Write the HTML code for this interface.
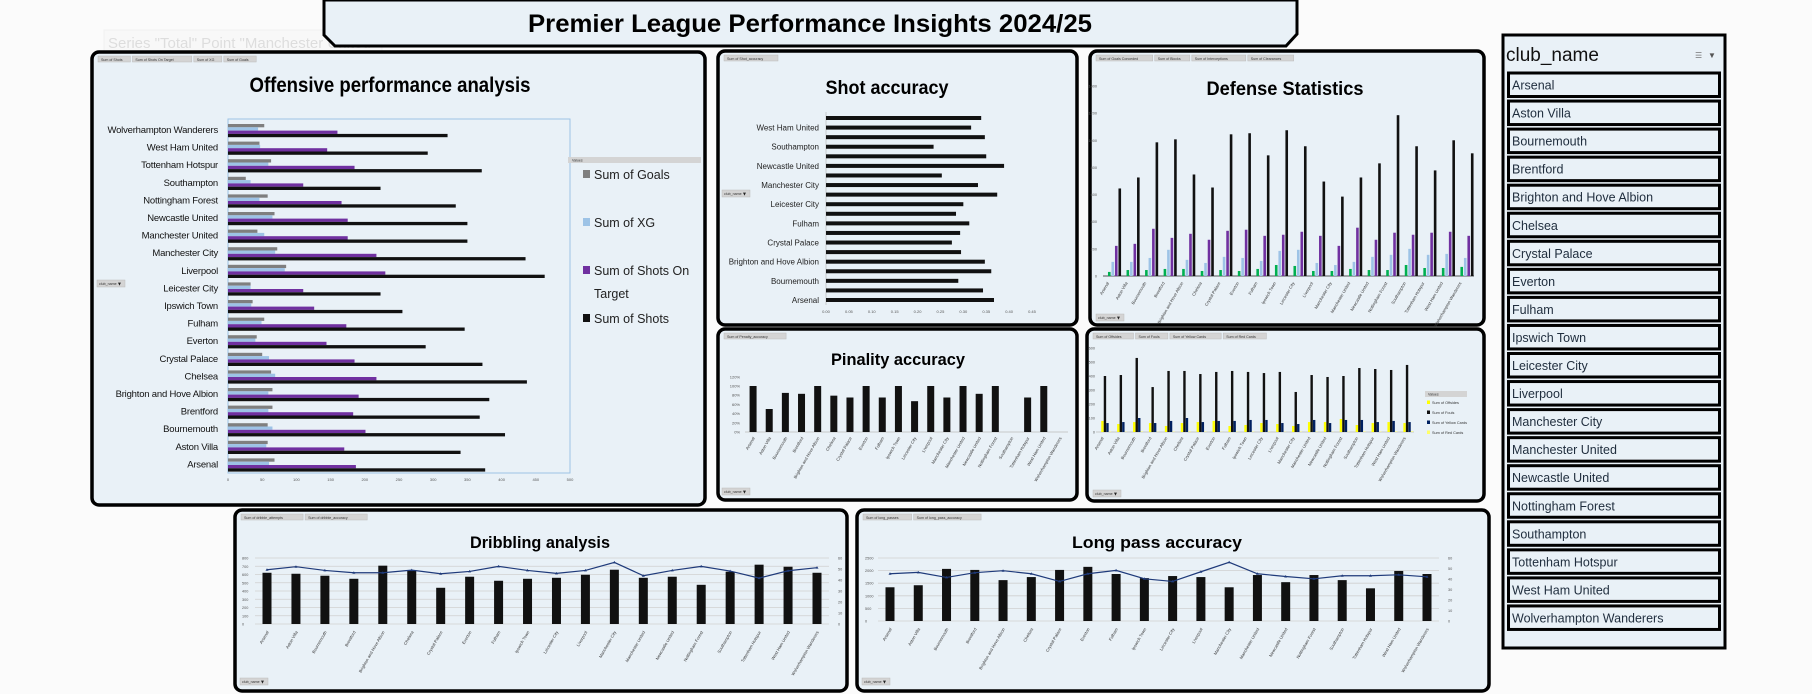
<!DOCTYPE html>
<html><head><meta charset="utf-8">
<style>
html,body{margin:0;padding:0;background:#fbfbfb;width:1812px;height:694px;overflow:hidden}
svg{display:block;font-family:"Liberation Sans",sans-serif}
</style></head>
<body>
<svg id="dash" xmlns="http://www.w3.org/2000/svg" width="1812" height="694" viewBox="0 0 1812 694">
  <g opacity="0.3">
    <rect x="104" y="30" width="278" height="44" fill="#f4f4f4" stroke="#ddd"/>
    <text x="108" y="48" font-size="15" fill="#999">Series "Total" Point "Manchester United"</text>
    <text x="108" y="68" font-size="15" fill="#999">Value: 100%</text>
  </g>
  <g>
    <polygon points="324,0 1297,0 1297,34 1286,46 335,46 324,35" fill="#e9f1f7" stroke="#000" stroke-width="3"/>
    <text x="810" y="32" text-anchor="middle" font-size="25" font-weight="bold" textLength="564" lengthAdjust="spacingAndGlyphs">Premier League Performance Insights 2024/25</text>
  </g>
  <g id="charts"></g>
  <g id="slicer"></g>
</svg>
<script>
const clubs = ["Arsenal","Aston Villa","Bournemouth","Brentford","Brighton and Hove Albion","Chelsea","Crystal Palace","Everton","Fulham","Ipswich Town","Leicester City","Liverpool","Manchester City","Manchester United","Newcastle United","Nottingham Forest","Southampton","Tottenham Hotspur","West Ham United","Wolverhampton Wanderers"];
// Offensive (Arsenal..Wolves)
const offGoals = [68,58,58,65,65,63,50,42,53,36,33,85,72,43,68,58,26,63,46,53];
const offXG = [60,56,65,59,59,69,60,40,49,34,33,83,69,53,65,46,33,59,47,44];
const offSoT = [187,170,201,183,191,217,185,144,173,126,110,230,217,175,175,166,110,185,145,160];
const offShots = [376,340,405,368,382,437,372,289,346,255,223,463,435,350,350,333,223,371,292,321];
const offTicks = [0,50,100,150,200,250,300,350,400,450,500];
// Shot accuracy
const shotAcc = [0.367,0.343,0.289,0.361,0.347,0.295,0.275,0.293,0.313,0.284,0.300,0.374,0.332,0.253,0.389,0.350,0.235,0.347,0.317,0.339];
const accTicks = [0,0.05,0.10,0.15,0.20,0.25,0.30,0.35,0.40,0.45];
// Defense
const defConceded = [30,44,44,52,52,37,44,37,52,81,74,37,37,52,44,44,81,59,59,67];
const defBlocks = [104,104,133,193,119,96,141,133,111,185,193,96,81,104,141,156,200,156,163,133];
const defInterceptions = [222,237,348,281,311,267,333,341,296,304,326,296,222,356,267,319,304,319,326,296];
const defClearances = [645,726,985,1007,748,652,1044,1052,889,1074,956,696,585,726,830,1185,956,778,1000,904];
const defTicks = [0,200,400,600,800,1000,1200,1400];
// Penalty accuracy (null = no value)
const penAcc = [100,50,85,83,100,79,75,100,75,100,67,100,75,100,83,100,null,75,100,null];
const penTicks = [0,20,40,60,80,100,120];
// Discipline
const offsides = [79,57,71,64,43,64,71,79,43,50,64,57,43,71,71,93,50,64,71,64];
const fouls = [400,407,529,321,436,436,414,429,436,429,421,429,286,407,393,400,457,450,443,479];
const yellowCards = [64,71,100,64,79,100,71,79,79,86,86,64,57,86,64,86,86,71,79,71];
const redCards = [3,2,4,2,3,5,3,2,3,3,4,2,3,3,2,3,4,3,4,5];
const discTicks = [0,100,200,300,400,500,600];
// Dribbling
const dribAttempts = [621,609,585,548,707,646,439,573,524,548,560,597,658,560,573,475,634,719,694,621];
const dribAccuracy = [49.3,52.1,48.7,46.6,46.6,49.0,45.7,47.8,52.4,48.7,46.0,48.7,56.0,43.9,48.7,52.4,48.1,41.7,48.4,51.2];
const dribTicksL = [0,100,200,300,400,500,600,700,800];
const dribTicksR = [0,10,20,30,40,50,60];
// Long passes
const longPasses = [1338,1419,2068,2027,1622,1743,2027,2149,1865,1703,1784,1743,1338,1824,1541,1824,1622,1297,1986,1865];
const longAcc = [45.0,46.3,41.5,46.0,47.9,45.0,37.7,45.0,48.2,40.2,37.7,46.9,55.9,45.0,42.4,40.2,43.1,43.1,44.0,42.1];
const longTicksL = [0,500,1000,1500,2000,2500];
const longTicksR = [0,10,20,30,40,50,60];

const NS="http://www.w3.org/2000/svg";
const root=document.getElementById('charts');
function mk(tag,attrs,parent){const e=document.createElementNS(NS,tag);for(const k in attrs)e.setAttribute(k,attrs[k]);(parent||root).appendChild(e);return e;}
function txt(s,attrs,parent){const e=mk('text',attrs,parent);e.textContent=s;return e;}
const PANEL="#e9f1f7";

function panel(name,x,y,w,h,title,tx,ty,tfs,tlen,tabs){
  const g=mk('g',{});
  
  
  const r=mk('rect',{x:x,y:y,width:w,height:h,rx:7,fill:PANEL,stroke:'#000','stroke-width':3.5},g);
  
  
  if(title){
    const t=txt(title,{x:tx,y:ty,'text-anchor':'middle','font-size':tfs,'font-weight':'bold',textLength:tlen,lengthAdjust:'spacingAndGlyphs'},g);
    
    
  }
  let cx=x+6;
  tabs.forEach(s=>{
    const tw=Math.max(28,s.length*2.7);
    const b=mk('rect',{x:cx,y:y+4,width:tw,height:6,fill:'#d4d4d4',stroke:'#bbb','stroke-width':0.5},g);
    
    
    txt(s,{x:cx+3,y:y+8.8,'font-size':3.6,fill:'#333'},g);
    cx+=tw+2;
  });
  return g;
}
function filterBtn(g,x,y){
  const b=mk('rect',{x:x,y:y,width:28,height:7,fill:'#d4d4d4',stroke:'#bbb','stroke-width':0.5},g);
  
  
  txt('club_name',{x:x+2,y:y+5,'font-size':3.6,fill:'#333'},g);
  txt('▼',{x:x+20,y:y+5.5,'font-size':5,fill:'#222'},g);
}
function xCatLabels(g,xs,y,fs){
  clubs.forEach((c,i)=>{
    const t=txt(c,{x:xs(i),y:y,'font-size':fs,fill:'#333','text-anchor':'end',transform:`rotate(-60 ${xs(i)} ${y})`},g);
    
    
  });
}

/* ---------- Offensive ---------- */
(function(){
  const g=panel('offensive-panel',92,52,613,453,'Offensive performance analysis',390,92,21,281,['Sum of Shots','Sum of Shots On Target','Sum of XG','Sum of Goals']);
  const x0=228,x1=570,yT=120,yB=472,n=clubs.length,rh=(yB-yT)/n;
  const X=v=>x0+(v/500)*(x1-x0);
  const pa=mk('rect',{x:x0,y:yT-1,width:x1-x0,height:yB-yT+2,fill:'none',stroke:'#9dc3e6','stroke-width':1},g);
  
  
  const series=[[offGoals,'#7f7f7f','bar-goals'],[offXG,'#9dc3e6','bar-xg'],[offSoT,'#7030a0','bar-shots-on-target'],[offShots,'#111','bar-shots']];
  for(let i=0;i<n;i++){
    const row=n-1-i; const top=yT+row*rh;
    series.forEach((s,k)=>{
      const b=mk('rect',{x:x0,y:top+4+k*3.3,width:X(s[0][i])-x0,height:3.3,fill:s[1]},g);
      
      
    });
    const l=txt(clubs[i],{x:218,y:top+13,'font-size':9.5,'letter-spacing':-0.2,'text-anchor':'end',fill:'#111'},g);
    
    
  }
  offTicks.forEach(v=>{txt(String(v),{x:X(v),y:481,'font-size':4,'text-anchor':'middle',fill:'#555'},g);});
  const vb=mk('rect',{x:568,y:157,width:133,height:6,fill:'#d4d4d4'},g);
  
  
  txt('Values',{x:572,y:161.5,'font-size':3.6,fill:'#333'},g);
  const leg=[['Sum of Goals','#7f7f7f',179],['Sum of XG','#9dc3e6',227],['Sum of Shots On','#7030a0',275],['Sum of Shots','#111',323]];
  leg.forEach(l=>{
    const sw=mk('rect',{x:583,y:l[2]-9,width:7,height:8,fill:l[1]},g);
    
    
    const t=txt(l[0],{x:594,y:l[2],'font-size':12.5,fill:'#222'},g);
    
    
  });
  txt('Target',{x:594,y:298,'font-size':12.5,fill:'#222'},g);
  filterBtn(g,97,280);
})();

/* ---------- Shot accuracy ---------- */
(function(){
  const g=panel('shot-accuracy-panel',718,51,359,274,'Shot accuracy',887,94,19,123,['Sum of Shot_accuracy']);
  const x0=826,x1=1032; const X=v=>x0+(v/0.45)*(x1-x0);
  const yT=118,yB=300,n=clubs.length,st=(yB-yT)/(n-1);
  mk('line',{x1:x0,y1:112,x2:x0,y2:305,stroke:'#bbb','stroke-width':0.7},g);
  for(let i=0;i<n;i++){
    const row=n-1-i; const cy=yT+row*st;
    const b=mk('rect',{x:x0,y:cy-2,width:X(shotAcc[i])-x0,height:4,fill:'#111'},g);
    
    
    if(row%2===1){
      const l=txt(clubs[i],{x:819,y:cy+3,'font-size':8,'text-anchor':'end',fill:'#222'},g);
      
      
    }
  }
  accTicks.forEach(v=>{txt(v.toFixed(2),{x:X(v),y:313,'font-size':4,'text-anchor':'middle',fill:'#555'},g);});
  filterBtn(g,722,190);
})();

/* ---------- Defense ---------- */
(function(){
  const g=panel('defense-panel',1090,51,394,274,'Defense Statistics',1285,95,19,157,['Sum of Goals Conceded','Sum of Blocks','Sum of Interceptions','Sum of Clearances']);
  const x0=1103,x1=1474,yB=276,yT=86; const Y=v=>yB-(v/1400)*(yB-yT);
  const sw=(x1-x0)/clubs.length; const cx=i=>x0+sw*i+sw/2+3;
  mk('line',{x1:x0,y1:yB,x2:x1,y2:yB,stroke:'#222','stroke-width':0.8},g);
  defTicks.forEach(v=>{txt(String(v),{x:1097,y:Y(v)+1.5,'font-size':3.8,'text-anchor':'end',fill:'#555'},g);});
  const ser=[[defConceded,'#00b050','bar-goals-conceded',-6],[defBlocks,'#9dc3e6','bar-blocks',-2.5],[defInterceptions,'#7030a0','bar-interceptions',1],[defClearances,'#111','bar-clearances',4.5]];
  clubs.forEach((c,i)=>{
    ser.forEach(s=>{
      const b=mk('rect',{x:cx(i)+s[3]-1.3,y:Y(s[0][i]),width:2.6,height:yB-Y(s[0][i]),fill:s[1]},g);
      
      
    });
  });
  xCatLabels(g,i=>cx(i)-6,283,4.2);
  filterBtn(g,1096,314);
})();

/* ---------- Penalty accuracy ---------- */
(function(){
  const g=panel('penalty-accuracy-panel',718,329,359,171,'Pinality accuracy',898,365,17,134,['Sum of Penalty_accuracy']);
  const x0=745,x1=1068,yB=432; const Y=v=>yB-v*0.46;
  const sw=(x1-x0)/clubs.length; const cx=i=>x0+sw*i+sw/2;
  mk('line',{x1:x0,y1:yB,x2:x1,y2:yB,stroke:'#bbb','stroke-width':0.7},g);
  penTicks.forEach(v=>{txt(v+'%',{x:740,y:Y(v)+1.5,'font-size':4,'text-anchor':'end',fill:'#555'},g);});
  penAcc.forEach((v,i)=>{
    if(v===null)return;
    const b=mk('rect',{x:cx(i)-3.5,y:Y(v),width:7,height:yB-Y(v),fill:'#111'},g);
    
    
  });
  xCatLabels(g,i=>cx(i)+2,438,4.2);
  filterBtn(g,722,488);
})();

/* ---------- Discipline ---------- */
(function(){
  const g=panel('discipline-panel',1087,329,397,172,'',0,0,1,1,['Sum of Offsides','Sum of Fouls','Sum of Yellow Cards','Sum of Red Cards']);
  const x0=1096,x1=1414,yB=432; const Y=v=>yB-v*0.14;
  const sw=(x1-x0)/clubs.length; const cx=i=>x0+sw*i+sw/2;
  mk('line',{x1:x0,y1:yB,x2:x1,y2:yB,stroke:'#bbb','stroke-width':0.7},g);
  discTicks.forEach(v=>{txt(String(v),{x:1095,y:Y(v)+1.5,'font-size':3.8,'text-anchor':'end',fill:'#555'},g);});
  const ser=[[offsides,'#ffff00','bar-offsides',-1.5],[fouls,'#111','bar-fouls',1],[yellowCards,'#002060','bar-yellow-cards',3.5],[redCards,'#ffff66','bar-red-cards',6]];
  clubs.forEach((c,i)=>{
    ser.forEach(s=>{
      const b=mk('rect',{x:cx(i)+s[3]-1.2,y:Y(s[0][i]),width:2.4,height:yB-Y(s[0][i]),fill:s[1]},g);
      
      
    });
  });
  xCatLabels(g,i=>cx(i),438,4.2);
  const vb=mk('rect',{x:1425,y:391,width:42,height:6,fill:'#d4d4d4'},g);
  
  
  txt('Values',{x:1428,y:395.5,'font-size':3.6,fill:'#333'},g);
  [['Sum of Offsides','#ffff00',404],['Sum of Fouls','#111',414],['Sum of Yellow Cards','#002060',424],['Sum of Red Cards','#ffff66',434]].forEach(l=>{
    mk('rect',{x:1427,y:l[2]-3.5,width:3,height:3.5,fill:l[1]},g);
    const t=txt(l[0],{x:1432,y:l[2],'font-size':3.8,fill:'#333'},g);
    
    
  });
  filterBtn(g,1093,490);
})();

/* ---------- Combo charts ---------- */
function combo(name,px,pw,title,tx,tlen,tabs,x0,x1,yB,yT,bars,maxL,ticksL,line,ticksR,barName,lineName,lx,rx){
  const g=panel(name,px,510,pw,181,title,tx,548,17,tlen,tabs);
  const YL=v=>yB-(v/maxL)*(yB-yT); const YR=v=>yB-(v/60)*(yB-yT);
  const st=(x1-x0)/(clubs.length-1); const cx=i=>x0+st*i;
  ticksL.forEach(v=>{
    mk('line',{x1:x0-12,y1:YL(v),x2:x1+12,y2:YL(v),stroke:'#d0d0d0','stroke-width':0.8},g);
    txt(String(v),{x:lx,y:YL(v)+1.5,'font-size':3.8,fill:'#555'},g);
  });
  ticksR.forEach(v=>{txt(String(v),{x:rx,y:YR(v)+1.5,'font-size':3.8,fill:'#555'},g);});
  bars.forEach((v,i)=>{
    const b=mk('rect',{x:cx(i)-4.5,y:YL(v),width:9,height:yB-YL(v),fill:'#111'},g);
    
    
  });
  const pts=line.map((v,i)=>cx(i)+','+YR(v)).join(' ');
  const pl=mk('polyline',{points:pts,fill:'none',stroke:'#1f3a7a','stroke-width':1.2},g);
  
  
  line.forEach((v,i)=>{
    const m=mk('path',{d:`M${cx(i)-1.5},${YR(v)+1} L${cx(i)},${YR(v)-1.5} L${cx(i)+1.5},${YR(v)+1} Z`,fill:'#1f3a7a'},g);
    
    
  });
  xCatLabels(g,i=>cx(i)+2,yB+8,4.2);
  filterBtn(g,px+5,678);
}
combo('dribbling-panel',235,612,'Dribbling analysis',540,140,['Sum of dribble_attempts','Sum of dribble_accuracy'],267,817,624,558,dribAttempts,800,dribTicksL,dribAccuracy,dribTicksR,'bar-dribble-attempts','line-dribble-accuracy',242,838);
combo('long-pass-panel',857,632,'Long pass accuracy',1157,170,['Sum of long_passes','Sum of long_pass_accuracy'],890,1427,621,558,longPasses,2500,longTicksL,longAcc,longTicksR,'bar-long-passes','line-long-pass-accuracy',865,1448);

/* ---------- Slicer ---------- */
(function(){
  const s=document.getElementById('slicer');
  
  
  mk('rect',{x:1503,y:35,width:222,height:613,fill:PANEL,stroke:'#000','stroke-width':3},s);
  const h=txt('club_name',{x:1506,y:61,'font-size':19,fill:'#111'},s);
  
  
  txt('☰',{x:1695,y:58,'font-size':8,fill:'#777'},s);
  txt('▼',{x:1708,y:58,'font-size':8,fill:'#555'},s);
  clubs.forEach((c,i)=>{
    const y=73+i*28.05;
    const r=mk('rect',{x:1508.5,y:y,width:211,height:23.5,fill:PANEL,stroke:'#000','stroke-width':3},s);
    
    
    txt(c,{x:1512,y:y+16.5,'font-size':12.5,fill:'#1f2d3d'},s);
  });
})();
</script>
</body></html>
